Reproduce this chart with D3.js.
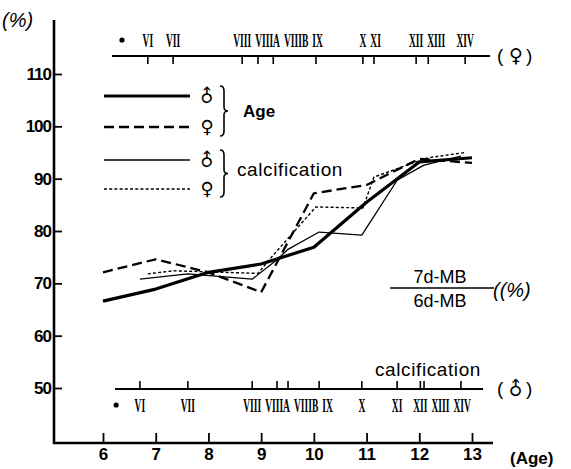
<!DOCTYPE html>
<html><head><meta charset="utf-8">
<script src="https://cdn.jsdelivr.net/npm/d3@7/dist/d3.min.js"></script>
<style>
html,body{margin:0;padding:0;background:#fff;}
svg{display:block;}
</style></head>
<body><svg id="c" width="571" height="469"></svg>
<script>
// ---------- data ----------
const ages = [6, 7, 8, 9, 10, 11, 12, 13];
const ageMale   = [66.6, 68.9, 72.1, 73.7, 76.9, 85.5, 93.2, 94.0];
const ageFemale = [72.1, 74.6, 72.1, 68.3, 87.2, 88.8, 93.8, 93.0];

const stageLabels = ["VI", "VII", "VIII", "VIIIA", "VIIIB", "IX", "X", "XI", "XII", "XIII", "XIV"];
const femaleStageAge = [6.85, 7.33, 8.64, 8.94, 9.23, 10.04, 10.93, 11.14, 11.94, 12.17, 12.87];
const maleStageAge   = [6.70, 7.61, 8.83, 9.30, 9.51, 10.10, 10.91, 11.58, 12.02, 12.09, 12.79];
const femaleCalc = [71.8, 72.4, 72.0, 71.9, 75.4, 84.6, 84.4, 90.3, 93.2, 94.0, 95.0];
const maleCalc   = [70.8, 71.8, 70.8, 74.5, 76.5, 79.8, 79.2, 89.7, 92.2, 92.6, 94.3];
const femaleDotAge = 6.36;
const maleDotAge = 6.25;

const yTicks = [50, 60, 70, 80, 90, 100, 110];
const xTicks = ages;

// ---------- layout ----------
const svg = d3.select("#c");
const x = d3.scaleLinear().domain([6, 13]).range([103, 472]);
const y = d3.scaleLinear().domain([50, 110]).range([388, 74]);
const axisX0 = 54, axisY0 = 443;
const boldFont = "Liberation Sans, Arial, sans-serif";

// y axis
svg.append("line").attr("x1", axisX0).attr("x2", axisX0).attr("y1", 20).attr("y2", axisY0 + 1)
  .attr("stroke", "#000").attr("stroke-width", 2.6);
const ya = svg.append("g").attr("transform", `translate(${axisX0},0)`)
  .call(d3.axisLeft(y).tickValues(yTicks).tickSizeInner(-8).tickSizeOuter(0).tickPadding(3).tickFormat(d3.format("d")));
ya.select(".domain").remove();
ya.selectAll(".tick line").attr("stroke", "#000").attr("stroke-width", 1.8);
ya.selectAll(".tick text").attr("font-family", boldFont).attr("font-weight", "bold")
  .attr("font-size", 17).attr("fill", "#000").attr("letter-spacing", -1);

// x axis
svg.append("line").attr("x1", axisX0 - 1).attr("x2", 493).attr("y1", axisY0).attr("y2", axisY0)
  .attr("stroke", "#000").attr("stroke-width", 2.6);
const xa = svg.append("g").attr("transform", `translate(0,${axisY0})`)
  .call(d3.axisBottom(x).tickValues(xTicks).tickSizeInner(-10).tickSizeOuter(0).tickPadding(5).tickFormat(d3.format("d")));
xa.select(".domain").remove();
xa.selectAll(".tick line").attr("stroke", "#000").attr("stroke-width", 1.8);
xa.selectAll(".tick text").attr("font-family", boldFont).attr("font-weight", "bold")
  .attr("font-size", 17).attr("fill", "#000");

// axis titles
svg.append("text").attr("x", 2).attr("y", 27).text("(%)")
  .attr("font-family", boldFont).attr("font-size", 20).attr("font-style", "italic").attr("fill", "#000");
svg.append("text").attr("x", 510).attr("y", 464).text("(Age)")
  .attr("font-family", boldFont).attr("font-weight", "bold").attr("font-size", 17).attr("fill", "#000");

// ---------- stage axes ----------
function stageAxis(lineY, x1, x2, positions, labels, dotAge, above, symbolChar, rotateSym) {
  svg.append("line").attr("x1", x1).attr("x2", x2).attr("y1", lineY).attr("y2", lineY)
    .attr("stroke", "#000").attr("stroke-width", 2);
  const dir = above ? 1 : -1;
  svg.selectAll(null).data(positions).enter().append("line")
    .attr("x1", d => x(d)).attr("x2", d => x(d))
    .attr("y1", lineY).attr("y2", lineY + dir * 8)
    .attr("stroke", "#000").attr("stroke-width", 1.6);
  const baseY = above ? lineY - 9 : lineY + 23;
  const sx = 0.5;
  const g = svg.append("g");
  const texts = g.selectAll("text").data(labels).enter().append("text")
    .attr("x", 0).attr("y", 0).attr("text-anchor", "middle")
    .attr("font-family", "Liberation Serif, Times New Roman, serif").attr("font-weight", "bold")
    .attr("font-size", 19).attr("fill", "#000").text(d => d);
  const widths = [];
  texts.each(function () { widths.push(this.getComputedTextLength() * sx); });
  const cx = positions.map(p => x(p));
  const gap = 4;
  for (let i = 1; i < cx.length; i++) {
    const minX = cx[i - 1] + (widths[i - 1] + widths[i]) / 2 + gap;
    if (cx[i] < minX) cx[i] = minX;
  }
  texts.attr("transform", (d, i) => `translate(${cx[i]},${baseY}) scale(${sx},1)`);
  svg.append("circle").attr("cx", x(dotAge)).attr("cy", baseY - 7).attr("r", 2.6).attr("fill", "#000");
  const sy = lineY + 6;
  svg.append("text").attr("x", 497).attr("y", sy).text("(")
    .attr("font-family", boldFont).attr("font-size", 19).attr("fill", "#000");
  svg.append("text").attr("x", 526).attr("y", sy).text(")")
    .attr("font-family", boldFont).attr("font-size", 19).attr("fill", "#000");
  const st = svg.append("text").attr("x", 516).attr("y", sy).attr("text-anchor", "middle")
    .attr("font-family", "DejaVu Sans, sans-serif").attr("font-size", 19).attr("fill", "#000").text(symbolChar);
  if (rotateSym) st.attr("transform", `rotate(-45,516,${sy - 6})`);
}
stageAxis(56, 112, 490, femaleStageAge, stageLabels, femaleDotAge, true, "\u2640", false);
stageAxis(389, 115, 483, maleStageAge, stageLabels, maleDotAge, false, "\u2642", true);

svg.append("text").attr("x", 375).attr("y", 376).text("calcification")
  .attr("font-family", boldFont).attr("font-size", 19).attr("letter-spacing", 0.6).attr("fill", "#000");

// ---------- series ----------
const styles = {
  ageM:  {w: 3.2, dash: null},
  ageF:  {w: 2.3, dash: "10,5"},
  calcM: {w: 1.3, dash: null},
  calcF: {w: 1.4, dash: "3,2.2"}
};
const line = d3.line().x(d => x(d[0])).y(d => y(d[1]));
const series = [
  {key: "calcM", pts: maleStageAge.map((a, i) => [a, maleCalc[i]])},
  {key: "calcF", pts: femaleStageAge.map((a, i) => [a, femaleCalc[i]])},
  {key: "ageF",  pts: ages.map((a, i) => [a, ageFemale[i]])},
  {key: "ageM",  pts: ages.map((a, i) => [a, ageMale[i]])}
];
svg.selectAll("path.s").data(series).enter().append("path").attr("class", "s")
  .attr("d", d => line(d.pts)).attr("fill", "none").attr("stroke", "#000")
  .attr("stroke-width", d => styles[d.key].w)
  .attr("stroke-dasharray", d => styles[d.key].dash)
  .attr("stroke-linejoin", "round");

// ---------- legend ----------
const legendItems = [
  {key: "ageM", ly: 96, sym: "\u2642"},
  {key: "ageF", ly: 127, sym: "\u2640"},
  {key: "calcM", ly: 160, sym: "\u2642"},
  {key: "calcF", ly: 189, sym: "\u2640"}
];
legendItems.forEach(it => {
  svg.append("line").attr("x1", 104).attr("x2", 190).attr("y1", it.ly).attr("y2", it.ly)
    .attr("stroke", "#000").attr("stroke-width", styles[it.key].w)
    .attr("stroke-dasharray", styles[it.key].dash);
  const t = svg.append("text").attr("x", 207).attr("text-anchor", "middle")
    .attr("font-family", "DejaVu Sans, sans-serif").attr("font-size", 18).attr("fill", "#000").text(it.sym);
  if (it.sym === "\u2642") {
    t.attr("y", it.ly + 6).attr("transform", `rotate(-45,207,${it.ly})`);
  } else {
    t.attr("y", it.ly + 6);
  }
});
// braces
function brace(bx, y1, y2) {
  const m = (y1 + y2) / 2;
  const p = `M${bx},${y1} q4,0 4,5 L${bx + 4},${m - 4} q0,4 4,4 q-4,0 -4,4 L${bx + 4},${y2 - 5} q0,5 -4,5`;
  svg.append("path").attr("d", p).attr("fill", "none").attr("stroke", "#000").attr("stroke-width", 1.6);
}
brace(220, 86, 136);
brace(220, 150, 197);
svg.append("text").attr("x", 243).attr("y", 117).text("Age")
  .attr("font-family", boldFont).attr("font-weight", "bold").attr("font-size", 17).attr("fill", "#000");
svg.append("text").attr("x", 237).attr("y", 176).text("calcification")
  .attr("font-family", boldFont).attr("font-size", 19).attr("letter-spacing", 0.6).attr("fill", "#000");

// ---------- fraction label ----------
svg.append("text").attr("x", 440).attr("y", 283).attr("text-anchor", "middle").text("7d-MB")
  .attr("font-family", boldFont).attr("font-size", 18).attr("fill", "#000");
svg.append("line").attr("x1", 390).attr("x2", 494).attr("y1", 288).attr("y2", 288)
  .attr("stroke", "#000").attr("stroke-width", 1.5);
svg.append("text").attr("x", 440).attr("y", 307).attr("text-anchor", "middle").text("6d-MB")
  .attr("font-family", boldFont).attr("font-size", 18).attr("fill", "#000");
svg.append("text").attr("x", 493).attr("y", 297).text("((%)")
  .attr("font-family", boldFont).attr("font-size", 20).attr("font-style", "italic").attr("fill", "#000");
</script></body></html>
